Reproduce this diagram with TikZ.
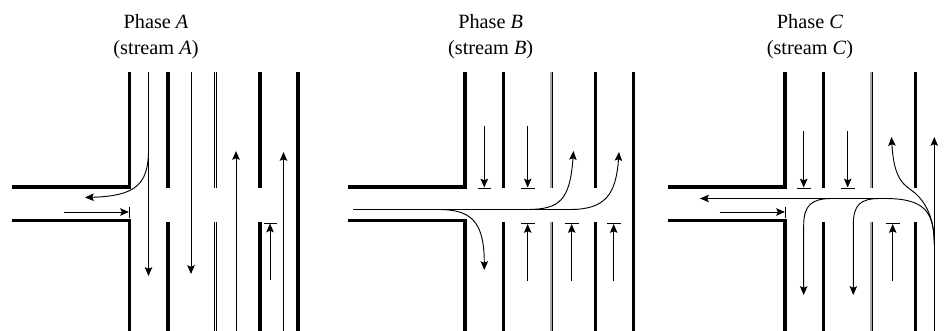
\documentclass[tikz,border=0pt]{standalone}
\usepackage{fontspec}
\setmainfont{Liberation Serif}
\usetikzlibrary{arrows.meta}
\tikzset{
  x=0.75pt,y=-0.75pt,
  wall/.style={line width=2.4pt,line cap=butt},
  median/.style={line width=0.75pt},
  mediancore/.style={line width=1.1pt,gray!70},
  flow/.style={line width=0.7pt,-{Stealth[length=6.6pt,width=5.6pt,inset=1.2pt]}},
  plainflow/.style={line width=0.7pt},
  stopbar/.style={line width=0.7pt},
  heading/.style={font=\fontsize{15.2}{19.6}\selectfont,align=center,inner sep=0pt},
  pics/road/.style={code={
    \draw[wall] (-117.5,187) -- (0,187) -- (0,72);
    \draw[wall] (-117.5,220.5) -- (0,220.5) -- (0,331);
    \draw[wall] (38.5,72) -- (38.5,188.5) (38.5,222.5) -- (38.5,331);
    \draw[median] (85,72) -- (85,188.5) (85,222.5) -- (85,331);
    \draw[median] (87,72) -- (87,188.5) (87,222.5) -- (87,331);
    \draw[wall] (130.5,72) -- (130.5,188.5) (130.5,222.5) -- (130.5,331);
  }}
}
\begin{document}
\begin{tikzpicture}
\useasboundingbox (0,0) rectangle (950,331);
% Phase A
\node[heading] (headA) at (156,36.5) {Phase \textit{A}\\(stream \textit{A})};
\pic at (129.5,0) {road};
\draw[wall] (298,72) -- (298,331);
\draw[flow] (148.5,72) -- (148.5,276);
\draw[flow] (148.5,137) -- (148.5,150) .. controls (148.5,185) and (135,196) .. (85,197.5);
\draw[flow] (191,72) -- (191,274);
\draw[flow] (236,331) -- (236,151);
\draw[flow] (283.5,331) -- (283.5,152);
\draw[flow] (270,280) -- (270,223.5);
\draw[stopbar] (264,223.2) -- (277,223.2);
\draw[flow] (64,212) -- (129,212);
\draw[stopbar] (129,207) -- (129,218);
% Phase B
\node[heading] (headB) at (490.7,36.5) {Phase \textit{B}\\(stream \textit{B})};
\pic at (465,0) {road};
\draw[mediancore] (551,72) -- (551,188.5) (551,222.5) -- (551,331);
\draw[wall] (633.5,72) -- (633.5,331);
\draw[flow] (484.3,126) -- (484.3,187.5);
\draw[stopbar] (478,188) -- (491,188);
\draw[flow] (527.7,126) -- (527.7,187.5);
\draw[stopbar] (521,188) -- (535,188);
\draw[flow] (527.7,281) -- (527.7,224);
\draw[stopbar] (521,223.5) -- (535,223.5);
\draw[flow] (571.7,281) -- (571.7,224);
\draw[stopbar] (565,223.5) -- (579,223.5);
\draw[flow] (613.7,281) -- (613.7,224);
\draw[stopbar] (607,223.5) -- (621,223.5);
\draw[plainflow] (353,209.5) -- (570,209.5);
\draw[flow] (438,209.5) .. controls (470,209.5) and (484.3,220) .. (484.3,270);
\draw[flow] (527,209.5) .. controls (560,209.5) and (570,200) .. (573.5,151);
\draw[flow] (570,209.5) .. controls (605,209.5) and (616,195) .. (619,152);
% Phase C
\node[heading] (headC) at (810,36.5) {Phase \textit{C}\\(stream \textit{C})};
\pic at (785,0) {road};
\draw[mediancore] (871,72) -- (871,188.5) (871,222.5) -- (871,331);
\draw[flow] (934.3,331) -- (934.3,137);
\draw[flow] (803.7,131) -- (803.7,187.5);
\draw[stopbar] (797,188) -- (810.5,188);
\draw[flow] (847.7,131) -- (847.7,187.5);
\draw[stopbar] (841,188) -- (854.5,188);
\draw[flow] (892.7,281) -- (892.7,224);
\draw[stopbar] (886,223.5) -- (899.5,223.5);
\draw[flow] (719.7,212) -- (785,212);
\draw[stopbar] (785,207) -- (785,218);
\draw[flow] (885,198.5) -- (700,198.5);
\draw[plainflow] (934.3,245) .. controls (934.3,212) and (925,198.5) .. (885,198.5);
\draw[flow] (832,198.5) .. controls (812,198.5) and (803.7,205) .. (803.7,225) -- (803.7,295);
\draw[flow] (880,198.5) .. controls (860,198.5) and (853.3,205) .. (853.3,225) -- (853.3,295);
\draw[flow] (934.3,245) .. controls (934.3,218) and (926,203) .. (915,193) .. controls (905,185) and (894,182) .. (891.5,137);
\end{tikzpicture}
\end{document}
